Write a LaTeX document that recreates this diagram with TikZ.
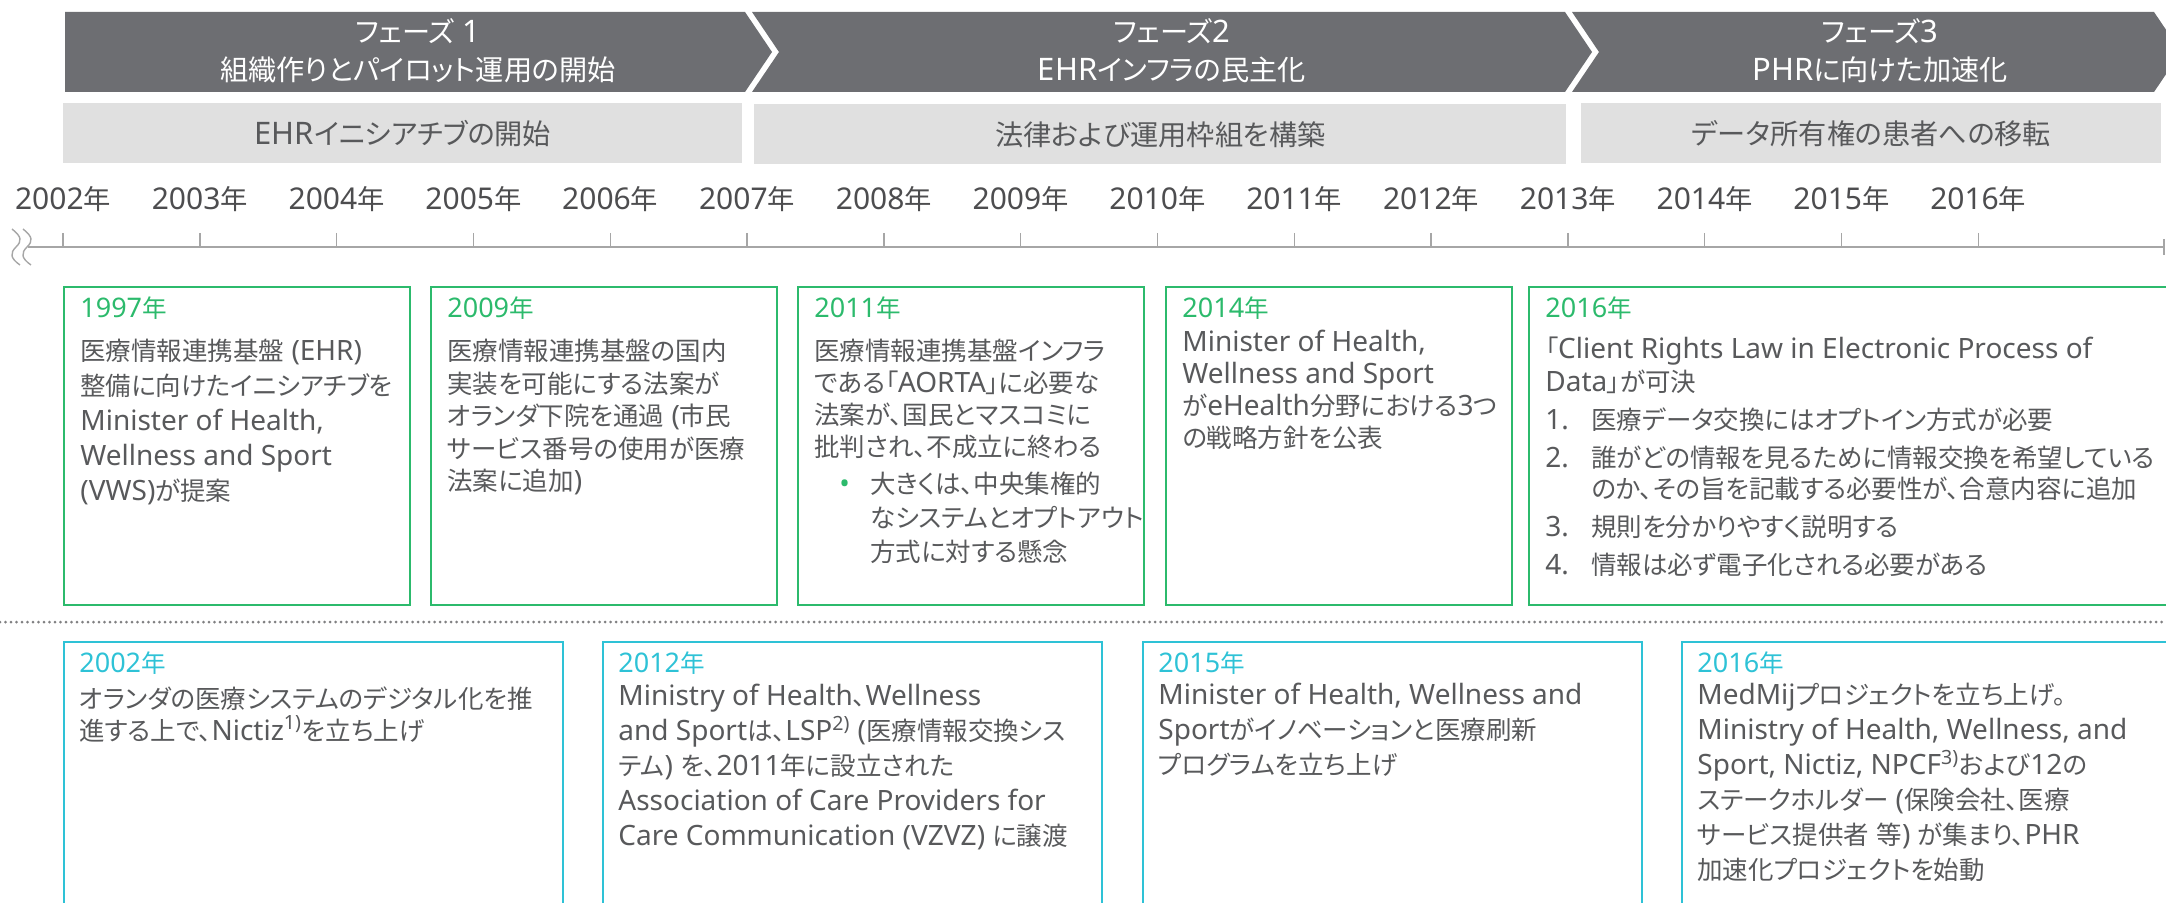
\documentclass[tikz,border=0pt]{standalone}
\usepackage{fontspec}
\setmainfont{Noto Sans}
\newfontfamily\cjkfam{Noto Sans CJK JP}[RawFeature=+palt, Scale=0.91]
\usetikzlibrary{positioning}

% Japanese characters in the CJK face, the rest in Noto Sans
\XeTeXinterchartokenstate=1
\newXeTeXintercharclass\cjkcls
\newcount\cjkidx
\newcommand\setcjkrange[2]{\cjkidx=#1\relax
    \loop\XeTeXcharclass\cjkidx=\cjkcls\relax
    \ifnum\cjkidx<#2\relax\advance\cjkidx by 1\repeat}
\setcjkrange{"3000}{"30FF}
\setcjkrange{"4E00}{"9FFF}
\setcjkrange{"FF00}{"FFEF}
\XeTeXinterchartoks 0 \cjkcls = {\cjkfam}
\XeTeXinterchartoks 4095 \cjkcls = {\cjkfam}
\XeTeXinterchartoks \cjkcls 0 = {\rmfamily}
\XeTeXinterchartoks \cjkcls 4095 = {\rmfamily}

\definecolor{phasegray}{RGB}{109,110,114}
\definecolor{bargray}{RGB}{224,224,224}
\definecolor{textgray}{RGB}{88,89,91}
\definecolor{yeargray}{RGB}{77,77,79}
\definecolor{axisgray}{RGB}{166,166,166}
\definecolor{sepgray}{RGB}{128,128,130}
\definecolor{topgreen}{RGB}{44,186,108}
\definecolor{botcyan}{RGB}{46,194,214}

\begin{document}
\begin{tikzpicture}[x=0.5pt, y=-0.5pt,
        phasetxt/.style={text=white, align=center, inner sep=0, font=\fontsize{15.5}{19}\selectfont},
        subbar/.style={fill=bargray, text=textgray, inner sep=0, minimum height=30pt, anchor=north west, font=\fontsize{15.5}{15.5}\selectfont},
        yearlbl/.style={text=yeargray, inner sep=0, font=\fontsize{15}{15}\selectfont},
        axisline/.style={draw=axisgray, line width=1pt},
        tickline/.style={draw=axisgray, line width=0.7pt},
        brkline/.style={draw=axisgray, line width=0.7pt},
        sepline/.style={draw=sepgray, line width=1.5pt, line cap=round, dash pattern=on 0pt off 2.75pt},
        topbox/.style={draw=topgreen, line width=1pt, minimum width=173pt, minimum height=159pt, anchor=north west, inner sep=0},
        botbox/.style={draw=botcyan, line width=1pt, minimum width=249.5pt, minimum height=140pt, anchor=north west, inner sep=0},
        topyear/.style={text=topgreen, anchor=north west, inner sep=0, font=\fontsize{13.5}{13.5}\selectfont},
        botyear/.style={topyear, text=botcyan},
        bodytxt/.style={text=textgray, anchor=north west, inner sep=0, align=left, font=\fontsize{14}{#1}\selectfont},
        bodytxt/.default=16pt,
        ]
        \useasboundingbox (0,0) rectangle (2166,903);

        % Phases
        \fill[phasegray] (65,12) -- (745,12) -- (772,52) -- (745,92) -- (65,92) -- cycle;
        \fill[phasegray] (752,12) -- (1565,12) -- (1592,52) -- (1565,92) -- (752,92) -- (779,52) -- cycle;
        \fill[phasegray] (1572,12) -- (2154,12) -- (2181,52) -- (2154,92) -- (1572,92) -- (1599,52) -- cycle;
        \node[phasetxt] (ph1) at (418,51) {フェーズ 1\\組織作りとパイロット運用の開始};
        \node[phasetxt] (ph2) at (1172,51) {フェーズ2\\EHRインフラの民主化};
        \node[phasetxt] (ph3) at (1880,51) {フェーズ3\\PHRに向けた加速化};

        \node[subbar, minimum width=339.5pt] (sub1) at (63,103) {EHRイニシアチブの開始};
        \node[subbar, minimum width=406pt]   (sub2) at (754,104) {法律および運用枠組を構築};
        \node[subbar, minimum width=290pt]   (sub3) at (1581,103) {データ所有権の患者への移転};

        % Time axis
        \draw[axisline] (28,247) -- (2164,247);
        \draw[axisline] (2164,239) -- (2164,255);
        \foreach \yr in {2002,...,2016}{
            \draw[tickline] ({63+(\yr-2002)*136.8},233) -- ++(0,14);
            \node[yearlbl] (yr\yr) at ({63+(\yr-2002)*136.8},199) {\yr{}年};
        }
        \foreach \dx in {0,11}{
            \draw[brkline] ({12+\dx},229) .. controls ({22+\dx},237) and ({22+\dx},241) .. ({16+\dx},247)
                .. controls ({10+\dx},253) and ({10+\dx},258) .. ({20+\dx},265);
        }

        \draw[sepline] (0,622) -- (2166,622);

        % Upper boxes
        \node[topbox] (b1997) at (63,286) {};
        \node[topbox] (b2009) at (430,286) {};
        \node[topbox] (b2011) at (797,286) {};
        \node[topbox] (b2014) at (1165,286) {};
        \node[topbox, minimum width=330pt] (b2016) at (1528,286) {};

        \node[topyear] (y1997) at ([shift={(17,10)}]b1997.north west) {1997年};
        \node[bodytxt=17.5pt] (t1997) at ([shift={(17,53)}]b1997.north west)
            {医療情報連携基盤 (EHR)\\整備に向けたイニシアチブを\\Minister of Health,\\Wellness and Sport\\(VWS)が提案};

        \node[topyear] (y2009) at ([shift={(17,10)}]b2009.north west) {2009年};
        \node[bodytxt=16.25pt] (t2009) at ([shift={(17,53)}]b2009.north west)
            {医療情報連携基盤の国内\\実装を可能にする法案が\\オランダ下院を通過 (市民\\サービス番号の使用が医療\\法案に追加)};

        \node[topyear] (y2011) at ([shift={(17,10)}]b2011.north west) {2011年};
        \node[bodytxt] (t2011) at ([shift={(17,53)}]b2011.north west)
            {医療情報連携基盤インフラ\\である「AORTA」に必要な\\法案が、国民とマスコミに\\批判され、不成立に終わる};
        \node[bodytxt=17pt] (u2011) at ([shift={(17,186)}]b2011.north west)
            {\hspace*{12.5pt}\makebox[15.5pt][l]{\textcolor{topgreen}{•}}大きくは、中央集権的\\
             \hspace*{28pt}なシステムとオプトアウト\\
             \hspace*{28pt}方式に対する懸念};

        \node[topyear] (y2014) at ([shift={(17,10)}]b2014.north west) {2014年};
        \node[bodytxt] (t2014) at ([shift={(17,44)}]b2014.north west)
            {Minister of Health,\\Wellness and Sport\\がeHealth分野における3つ\\の戦略方針を公表};

        \node[topyear] (y2016) at ([shift={(17,10)}]b2016.north west) {2016年};
        \node[bodytxt=16.5pt] (t2016) at ([shift={(17,51)}]b2016.north west)
            {「Client Rights Law in Electronic Process of\\Data」が可決};
        \node[bodytxt=15.5pt] (l2016) at ([shift={(17,121)}]b2016.north west)
            {\makebox[23pt][l]{1.}医療データ交換にはオプトイン方式が必要\\[3.5pt]
             \makebox[23pt][l]{2.}誰がどの情報を見るために情報交換を希望している\\
             \hspace*{23pt}のか、その旨を記載する必要性が、合意内容に追加\\[3.5pt]
             \makebox[23pt][l]{3.}規則を分かりやすく説明する\\[3.5pt]
             \makebox[23pt][l]{4.}情報は必ず電子化される必要がある};

        % Lower boxes
        \node[botbox] (c2002) at (63,641) {};
        \node[botbox] (c2012) at (602,641) {};
        \node[botbox] (c2015) at (1142,641) {};
        \node[botbox] (c2016) at (1681,641) {};

        \node[botyear] (z2002) at ([shift={(16,10)}]c2002.north west) {2002年};
        \node[bodytxt] (s2002) at ([shift={(16,45)}]c2002.north west)
            {オランダの医療システムのデジタル化を推\\進する上で、Nictiz\textsuperscript{1)}を立ち上げ};

        \node[botyear] (z2012) at ([shift={(16,10)}]c2012.north west) {2012年};
        \node[bodytxt=17.5pt] (s2012) at ([shift={(16,43)}]c2012.north west)
            {Ministry of Health、Wellness\\and Sportは、LSP\textsuperscript{2)} (医療情報交換シス\\テム) を、2011年に設立された\\Association of Care Providers for\\Care Communication (VZVZ) に譲渡};

        \node[botyear] (z2015) at ([shift={(16,10)}]c2015.north west) {2015年};
        \node[bodytxt=17.5pt] (s2015) at ([shift={(16,42)}]c2015.north west)
            {Minister of Health, Wellness and\\Sportがイノベーションと医療刷新\\プログラムを立ち上げ};

        \node[botyear] (z2016) at ([shift={(16,10)}]c2016.north west) {2016年};
        \node[bodytxt=17.5pt] (s2016) at ([shift={(16,42)}]c2016.north west)
            {MedMijプロジェクトを立ち上げ。\\Ministry of Health, Wellness, and\\Sport, Nictiz, NPCF\textsuperscript{3)}および12の\\ステークホルダー (保険会社、医療\\サービス提供者 等) が集まり、PHR\\加速化プロジェクトを始動};

    \end{tikzpicture}
\end{document}
